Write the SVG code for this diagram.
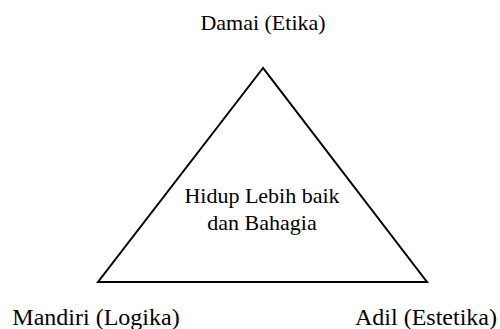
<svg xmlns="http://www.w3.org/2000/svg" width="500" height="329" viewBox="0 0 500 329">
<style>
text{font-family:'Liberation Serif','Times New Roman',Times,serif;font-size:24px;fill:#000;text-anchor:middle}
text.c{font-size:22px}
.edge{fill:none;stroke:#000;stroke-width:2}
</style>
<rect width="500" height="329" fill="#fff"/>
<g id="connectors">
<polygon class="edge" points="263,68 98,282 427,282"/>
</g>
<g id="node-damai"><text class="c" x="263" y="30">Damai (Etika)</text></g>
<g id="node-center"><text class="c" x="262" y="203">Hidup Lebih baik</text><text class="c" x="262" y="230">dan Bahagia</text></g>
<g id="node-mandiri"><text x="96" y="325">Mandiri (Logika)</text></g>
<g id="node-adil"><text x="426" y="325">Adil (Estetika)</text></g>
</svg>
